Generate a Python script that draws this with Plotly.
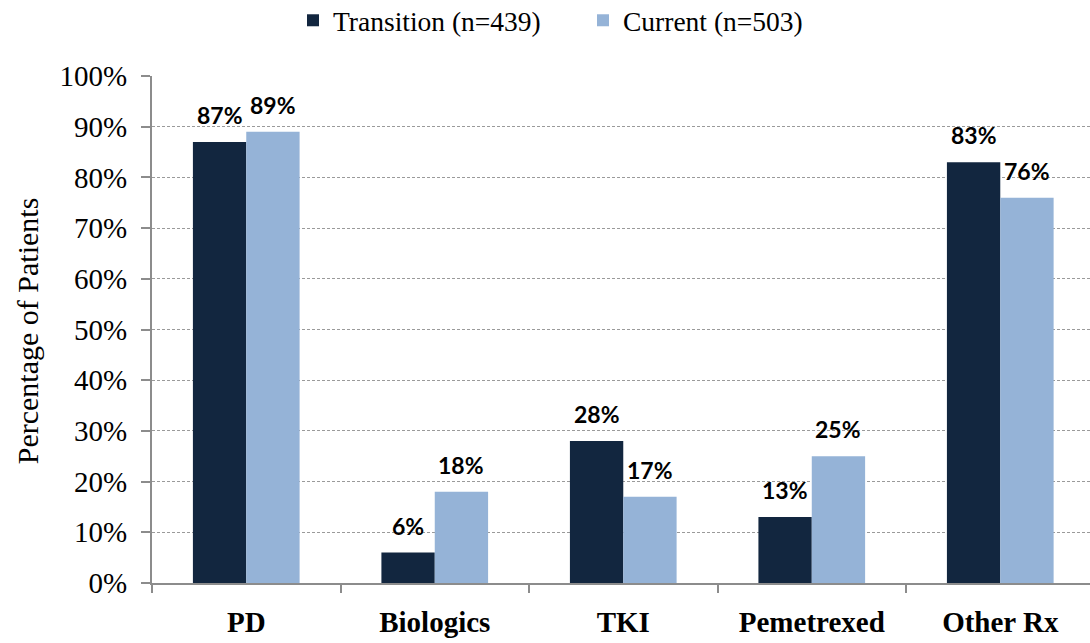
import plotly.graph_objects as go

# Share of patients by treatment type, two cohorts
categories = ["PD", "Biologics", "TKI", "Pemetrexed", "Other Rx"]
transition = [87, 6, 28, 13, 83]
current = [89, 18, 17, 25, 76]
series_names = ["Transition (n=439)", "Current (n=503)"]
y_ticks = list(range(0, 101, 10))
y_title = "Percentage of Patients"

dark = "#12263F"
light = "#95B3D7"
axis_grey = "#8C8C8C"
serif = "Liberation Serif, Times New Roman, serif"
label_font = "Lato, Carlito, Calibri, sans-serif"

fig = go.Figure()
fig.add_bar(x=categories, y=[v / 100 for v in transition], name=series_names[0],
            marker=dict(color=dark, line=dict(width=0)))
fig.add_bar(x=categories, y=[v / 100 for v in current], name=series_names[1],
            marker=dict(color=light, line=dict(width=0)))

# value labels above each bar
annotations = []
for vals, shift in ((transition, -26.7), (current, 26.7)):
    for cat, v in zip(categories, vals):
        annotations.append(dict(
            x=cat, y=v / 100, xref="x", yref="y", text=f"{v}%",
            showarrow=False, xshift=shift, yshift=27, yanchor="middle",
            font=dict(family=label_font, size=23, color="#000000", weight="bold"),
        ))

# vertical axis title, placed left of the tick labels
annotations.append(dict(
    text=y_title, xref="paper", yref="paper", x=-0.133, y=0.497,
    xanchor="center", yanchor="middle", textangle=-90, showarrow=False,
    font=dict(family=serif, size=30, color="#000000"),
))

fig.update_layout(
    width=1090, height=643,
    margin=dict(l=152, r=0, t=76, b=60, autoexpand=False),
    paper_bgcolor="white", plot_bgcolor="white",
    barmode="group", bargap=0.434, bargroupgap=0,
    showlegend=True,
    legend=dict(orientation="h", x=293 / 1090, xref="container", xanchor="left",
                y=1.158, yref="paper", yanchor="top",
                font=dict(family=serif, size=27.5, color="#000000"),
                itemwidth=30, entrywidth=245, tracegroupgap=0),
    annotations=annotations,
    font=dict(family=serif, color="#000000"),
)

fig.update_xaxes(
    type="category", range=[-0.5, 4.476],
    showline=True, linecolor=axis_grey, linewidth=2,
    ticks="outside", tickson="boundaries", ticklen=8, tickcolor=axis_grey, tickwidth=2,
    tickfont=dict(family=serif, size=29, color="#000000", weight="bold"),
    showgrid=False, ticklabelstandoff=12,
)
fig.update_yaxes(
    range=[0, 1], tickvals=[t / 100 for t in y_ticks],
    ticktext=[f"{t}%" for t in y_ticks],
    showline=True, linecolor=axis_grey, linewidth=2,
    ticks="outside", ticklen=9, tickcolor=axis_grey, tickwidth=2,
    tickfont=dict(family=serif, size=29, color="#000000"),
    ticklabelstandoff=8,
    showgrid=True, gridcolor="#9A9A9A", gridwidth=1, griddash="3px,2px",
    zeroline=False,
)

fig.write_html("out.html")
